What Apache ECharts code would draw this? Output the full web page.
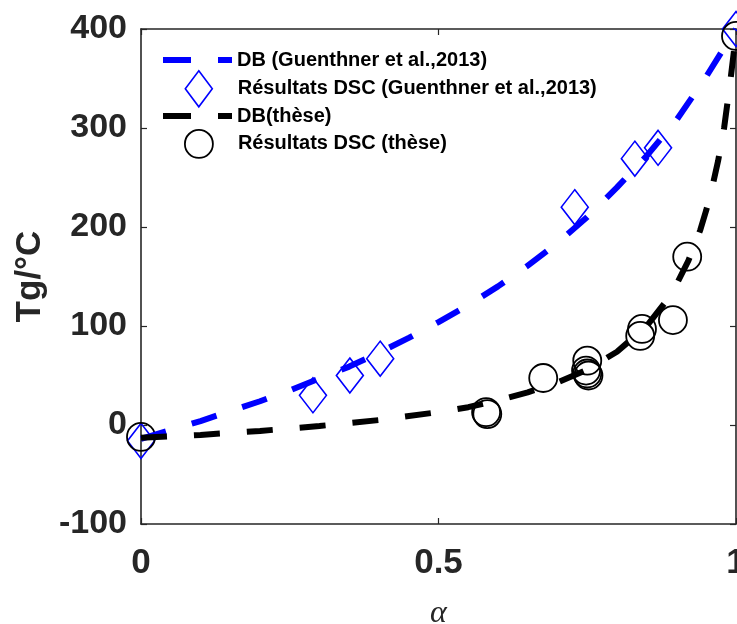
<!DOCTYPE html>
<html>
<head>
<meta charset="utf-8">
<script src="https://cdn.jsdelivr.net/npm/echarts@6/dist/echarts.min.js"></script>
<style>html,body{margin:0;padding:0;background:#fff}#c{width:737px;height:624px}</style>
</head>
<body>
<div id="c"></div>
<script>
// ---- data ----
const xTicks = [0, 0.5, 1];
const yTicks = [-100, 0, 100, 200, 300, 400];

const dbGuenthnerX = [0,0.05,0.1,0.15,0.2,0.25,0.3,0.35,0.4,0.45,0.5,0.55,0.6,0.65,0.7,0.75,0.8,0.85,0.9,0.95,1];
const dbGuenthnerY = [-14,-5,4,14,24,35,47,59,73,88,104,121,140,161,184,210,240,272,308,352,400];

const dscGuenthnerX = [0, 0.289, 0.351, 0.402, 0.729, 0.830, 0.869, 1];
const dscGuenthnerY = [-16, 30, 50, 67, 220, 269, 280, 400];

const dbTheseX = [0,0.1,0.2,0.3,0.4,0.5,0.55,0.6,0.65,0.7,0.75,0.8,0.85,0.88,0.9,0.92,0.94,0.95,0.96,0.97,0.98,0.99,1];
const dbTheseY = [-13,-10,-6,-1,5,13,18,25,33,43,56,74,100,123,142,166,197,217,240,267,300,345,395];

const dscTheseX = [0, 0.580, 0.582, 0.676, 0.750, 0.748, 0.750, 0.752, 0.842, 0.839, 0.894, 0.918, 1];
const dscTheseY = [-12, 13, 11, 47.5, 65, 55, 52, 50, 97, 90, 106, 170, 393];

const names = ['DB (Guenthner et al.,2013)', 'Résultats DSC (Guenthner et al.,2013)', 'DB(thèse)', 'Résultats DSC (thèse)'];

const zip = (xs, ys) => xs.map((x, i) => [x, ys[i]]);

const axisColor = '#262626';
const fontFam = '"Liberation Sans", Arial, Helvetica, sans-serif';
const legendText = { fontFamily: fontFam, fontWeight: 'bold', fontSize: 20, color: '#000' };
const dashIcon = 'path://M0,0h28v6h-28zM55,0h14v6h-14z';
const lineAx = { show: true, onZero: false, lineStyle: { color: axisColor, width: 1.6 } };
const tickAx = { show: true, inside: true, length: 6, lineStyle: { color: axisColor, width: 1.2 } };

const chart = echarts.init(document.getElementById('c'), null, { renderer: 'canvas' });
chart.setOption({
  animation: false,
  backgroundColor: '#fff',
  grid: { left: 141, right: 1, top: 29, bottom: 100, containLabel: false, outerBoundsMode: 'none' },
  xAxis: [
    {
      type: 'value', min: xTicks[0], max: xTicks[xTicks.length - 1], interval: 0.5,
      position: 'bottom',
      name: 'α', nameLocation: 'middle', nameGap: 74,
      nameTextStyle: { fontFamily: '"Liberation Serif", "DejaVu Serif", serif', fontStyle: 'italic', fontSize: 32, color: axisColor },
      axisLine: lineAx,
      axisTick: tickAx,
      axisLabel: { show: true, margin: 22, fontFamily: fontFam, fontWeight: 'bold', fontSize: 35, color: axisColor,
                   showMinLabel: true, showMaxLabel: true, hideOverlap: false },
      splitLine: { show: false }
    },
    {
      type: 'value', min: xTicks[0], max: xTicks[xTicks.length - 1], interval: 0.5,
      position: 'top',
      axisLine: lineAx,
      axisTick: tickAx,
      axisLabel: { show: false },
      splitLine: { show: false }
    }
  ],
  yAxis: [
    {
      type: 'value', min: yTicks[0], max: yTicks[yTicks.length - 1], interval: 100,
      position: 'left',
      name: 'Tg/°C', nameLocation: 'middle', nameGap: 92,
      nameTextStyle: { fontFamily: fontFam, fontWeight: 'bold', fontSize: 35, color: axisColor },
      axisLine: lineAx,
      axisTick: tickAx,
      axisLabel: { show: true, margin: 14, fontFamily: fontFam, fontWeight: 'bold', fontSize: 34, color: axisColor,
                   showMinLabel: true, showMaxLabel: true, hideOverlap: false },
      splitLine: { show: false }
    },
    {
      type: 'value', min: yTicks[0], max: yTicks[yTicks.length - 1], interval: 100,
      position: 'right',
      axisLine: lineAx,
      axisTick: tickAx,
      axisLabel: { show: false },
      splitLine: { show: false }
    }
  ],
  legend: [
    {
      data: [{ name: names[0], icon: dashIcon, itemStyle: { color: '#0000ff', borderWidth: 0 } }],
      left: 163, top: 50, padding: 0, itemWidth: 69, itemHeight: 6, selectedMode: false,
      textStyle: legendText
    },
    {
      data: [{ name: names[1] }],
      left: 184.5, top: 70, padding: 0, itemWidth: 27, itemHeight: 36, symbolKeepAspect: false, selectedMode: false,
      itemStyle: { color: 'rgba(0,0,0,0)', borderColor: '#0000ff', borderWidth: 1.6 },
      textStyle: Object.assign({ padding: [0, 0, 0, 20.5] }, legendText)
    },
    {
      data: [{ name: names[2], icon: dashIcon, itemStyle: { color: '#000000', borderWidth: 0 } }],
      left: 163, top: 106, padding: 0, itemWidth: 69, itemHeight: 6, selectedMode: false,
      textStyle: legendText
    },
    {
      data: [{ name: names[3] }],
      left: 184, top: 129, padding: 0, itemWidth: 28, itemHeight: 28, selectedMode: false,
      itemStyle: { color: 'rgba(0,0,0,0)', borderColor: '#000000', borderWidth: 1.8 },
      textStyle: Object.assign({ padding: [0, 0, 0, 20] }, legendText)
    }
  ],
  series: [
    {
      name: names[0], type: 'line', data: zip(dbGuenthnerX, dbGuenthnerY),
      showSymbol: false, symbol: 'none', clip: false,
      color: '#0000ff',
      lineStyle: { color: '#0000ff', width: 6, type: [26, 27], cap: 'butt' }
    },
    {
      name: names[1], type: 'scatter', data: zip(dscGuenthnerX, dscGuenthnerY),
      symbol: 'diamond', symbolSize: [27, 35], clip: false,
      itemStyle: { color: 'rgba(0,0,0,0)', borderColor: '#0000ff', borderWidth: 1.6, opacity: 1 }
    },
    {
      name: names[2], type: 'line', data: zip(dbTheseX, dbTheseY),
      showSymbol: false, symbol: 'none', clip: false,
      color: '#000000',
      lineStyle: { color: '#000000', width: 6, type: [26, 27], cap: 'butt' }
    },
    {
      name: names[3], type: 'scatter', data: zip(dscTheseX, dscTheseY),
      symbol: 'circle', symbolSize: 28, clip: false,
      itemStyle: { color: 'rgba(0,0,0,0)', borderColor: '#000000', borderWidth: 1.8, opacity: 1 }
    }
  ]
});
</script>
</body>
</html>
